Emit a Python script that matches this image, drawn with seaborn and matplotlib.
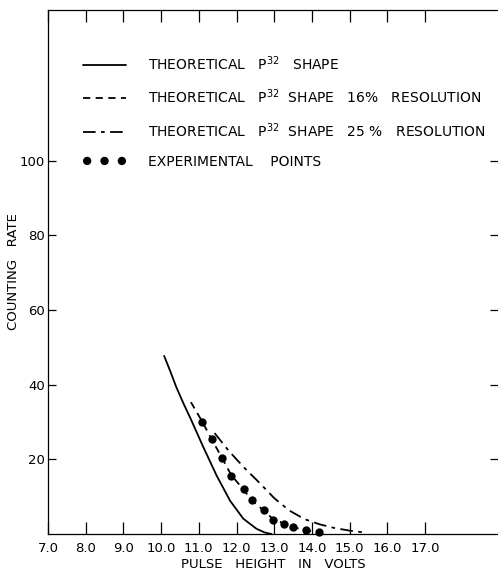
import matplotlib
matplotlib.use("Agg")
import matplotlib.pyplot as plt
import seaborn as sns

# ---- data ----
solid_x = [10.08, 10.25, 10.4, 10.6, 10.8, 11.1, 11.47, 11.83, 12.18, 12.53, 12.75, 12.93]
solid_y = [47.7, 43.4, 39.4, 34.8, 30.5, 23.7, 15.7, 8.9, 4.1, 1.4, 0.4, 0.0]

res16_x = [10.79, 11.09, 11.35, 11.62, 11.86, 12.19, 12.41, 12.73, 12.97, 13.26, 13.51, 13.84, 14.05]
res16_y = [35.3, 30.1, 25.2, 20.3, 15.8, 11.8, 9.0, 6.2, 4.0, 2.8, 1.8, 1.0, 0.6]

res25_x = [11.42, 11.8, 12.2, 12.6, 13.0, 13.4, 13.8, 14.2, 14.6, 15.0, 15.4]
res25_y = [27.0, 22.2, 17.8, 13.8, 9.6, 6.3, 4.0, 2.6, 1.6, 0.9, 0.4]

exp_x = [11.09, 11.35, 11.62, 11.86, 12.19, 12.41, 12.73, 12.97, 13.26, 13.51, 13.84, 14.19]
exp_y = [30.1, 25.4, 20.3, 15.5, 12.0, 9.0, 6.4, 3.7, 2.8, 1.8, 1.1, 0.5]

x_ticks = [7, 8, 9, 10, 11, 12, 13, 14, 15, 16, 17]
x_tick_labels = ["7.0", "8.0", "9.0", "10.0", "11.0", "12.0", "13.0", "14.0", "15.0", "16.0", "17.0"]
y_ticks = [20, 40, 60, 80, 100]
y_tick_labels = ["20", "40", "60", "80", "100"]

labels = [
    "THEORETICAL   P$^{32}$   SHAPE",
    "THEORETICAL   P$^{32}$  SHAPE   16%   RESOLUTION",
    "THEORETICAL   P$^{32}$  SHAPE   25 %   RESOLUTION",
    "EXPERIMENTAL    POINTS",
]

sns.set_style("white")
plt.rcParams['font.family'] = ['DejaVu Sans']
plt.rcParams['mathtext.fontset'] = 'dejavusans'
plt.rcParams['text.color'] = 'black'
plt.rcParams['axes.labelcolor'] = 'black'
plt.rcParams['xtick.color'] = 'black'
plt.rcParams['ytick.color'] = 'black'

fig = plt.figure(figsize=(4.98, 5.71), dpi=100)
ax = fig.add_axes([48 / 498, 37 / 571, 1 - 48 / 498, (534 - 10) / 571])

lw = 1.3
sns.lineplot(x=solid_x, y=solid_y, ax=ax, color="black", lw=lw, label=labels[0], sort=False)
sns.lineplot(x=res16_x, y=res16_y, ax=ax, color="black", lw=lw,
             linestyle=(0, (4, 3)), label=labels[1], sort=False)
sns.lineplot(x=res25_x, y=res25_y, ax=ax, color="black", lw=lw,
             linestyle=(0, (7, 3, 2, 3)), label=labels[2], sort=False)
sns.scatterplot(x=exp_x, y=exp_y, ax=ax, color="black", s=36, edgecolor="black",
                linewidth=0, label=labels[3], zorder=5, clip_on=False)

ax.set_xlim(7, 7 + 450 / 37.7)
ax.set_ylim(0, (534 - 10) / 3.735)

ax.set_xticks(x_ticks)
ax.set_xticklabels(x_tick_labels, fontsize=9.5)
ax.set_yticks(y_ticks)
ax.set_yticklabels(y_tick_labels, fontsize=9.5)

ax.tick_params(axis="x", which="both", direction="in", length=8.5, width=0.9,
               top=True, bottom=True, pad=6, colors="black")
ax.tick_params(axis="y", which="both", direction="in", length=6, width=0.9,
               left=True, right=True, pad=2, colors="black")

for s in ["left", "bottom", "top"]:
    ax.spines[s].set_visible(True)
    ax.spines[s].set_color("black")
    ax.spines[s].set_linewidth(0.9)
ax.spines["right"].set_visible(False)

ax.set_xlabel("PULSE   HEIGHT   IN   VOLTS", fontsize=9.5, labelpad=2)
ax.set_ylabel("COUNTING   RATE", fontsize=9.5, labelpad=0)

leg = ax.legend(loc="upper left", bbox_to_anchor=(35 / 450, (534 - 54) / 524),
                frameon=False, fontsize=10, handlelength=3.1, handletextpad=1.55,
                labelspacing=1.08, scatterpoints=3, scatteryoffsets=[0.5],
                borderaxespad=0, borderpad=0)
for t in leg.get_texts():
    t.set_color("black")

fig.savefig("out.png", dpi=100)
